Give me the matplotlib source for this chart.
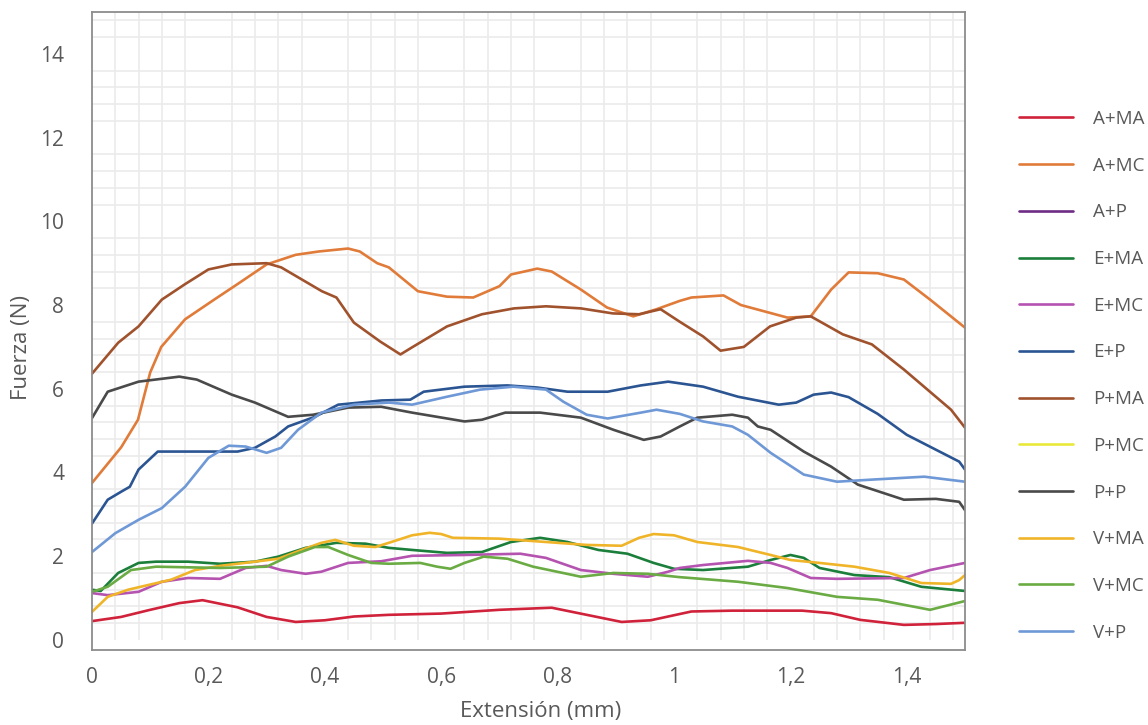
import matplotlib.pyplot as plt
import numpy as np

plt.rcParams['font.family'] = ['Open Sans', 'DejaVu Sans']

a_ma_x = [0, 0.05, 0.1, 0.15, 0.19, 0.25, 0.3, 0.35, 0.4, 0.45, 0.51, 0.6,
          0.7, 0.79, 0.85, 0.91, 0.96, 1.03, 1.1, 1.22, 1.27, 1.32, 1.395,
          1.45, 1.5]
a_ma = [0.45, 0.55, 0.72, 0.88, 0.95, 0.78, 0.55, 0.43, 0.47, 0.56, 0.6,
        0.63, 0.72, 0.77, 0.6, 0.43, 0.47, 0.68, 0.7, 0.7, 0.64, 0.48,
        0.36, 0.38, 0.41]

a_mc_x = [0, 0.05, 0.079, 0.1, 0.119, 0.16, 0.21, 0.25, 0.3, 0.35, 0.39,
          0.44, 0.46, 0.49, 0.51, 0.56, 0.61, 0.655, 0.7, 0.72, 0.765,
          0.79, 0.84, 0.885, 0.93, 0.97, 1.01, 1.03, 1.085, 1.115, 1.195,
          1.235, 1.27, 1.3, 1.35, 1.395, 1.44, 1.5]
a_mc = [3.75, 4.6, 5.26, 6.39, 7.0, 7.66, 8.13, 8.5, 8.97, 9.2, 9.28,
        9.35, 9.28, 9.0, 8.9, 8.33, 8.2, 8.18, 8.45, 8.73, 8.87,
        8.8, 8.37, 7.94, 7.73, 7.9, 8.1, 8.18, 8.23, 8.0, 7.7,
        7.73, 8.37, 8.78, 8.76, 8.61, 8.13, 7.46]

a_p_x = []
a_p = []

e_ma_x = [0, 0.015, 0.045, 0.08, 0.11, 0.165, 0.22, 0.28, 0.32, 0.367,
          0.42, 0.47, 0.51, 0.55, 0.61, 0.67, 0.72, 0.77, 0.817, 0.87,
          0.92, 0.965, 1.0, 1.05, 1.127, 1.166, 1.2, 1.223, 1.25, 1.31,
          1.37, 1.425, 1.5]
e_ma = [1.2, 1.17, 1.6, 1.84, 1.87, 1.87, 1.82, 1.87, 1.99, 2.2,
        2.32, 2.3, 2.2, 2.15, 2.08, 2.1, 2.34, 2.44, 2.34, 2.15,
        2.06, 1.84, 1.7, 1.67, 1.75, 1.91, 2.03, 1.96, 1.72, 1.55,
        1.5, 1.27, 1.17]

e_mc_x = [0, 0.027, 0.08, 0.12, 0.165, 0.22, 0.264, 0.3, 0.325, 0.367,
          0.394, 0.44, 0.497, 0.55, 0.64, 0.736, 0.78, 0.84, 0.896, 0.955,
          0.99, 1.01, 1.05, 1.127, 1.166, 1.195, 1.235, 1.28, 1.395, 1.44,
          1.5]
e_mc = [1.12, 1.07, 1.15, 1.39, 1.48, 1.46, 1.72, 1.77, 1.67, 1.58,
        1.63, 1.84, 1.88, 2.01, 2.03, 2.06, 1.96, 1.67, 1.58, 1.51,
        1.63, 1.72, 1.79, 1.89, 1.84, 1.72, 1.48, 1.46, 1.48, 1.67,
        1.84]

e_p_x = [0, 0.027, 0.05, 0.065, 0.08, 0.113, 0.165, 0.25, 0.28, 0.315,
         0.337, 0.383, 0.423, 0.497, 0.547, 0.57, 0.64, 0.714, 0.765,
         0.817, 0.886, 0.943, 0.99, 1.05, 1.11, 1.18, 1.21, 1.24, 1.27,
         1.3, 1.35, 1.4, 1.49, 1.5]
e_p = [2.78, 3.35, 3.54, 3.66, 4.07, 4.5, 4.5, 4.5, 4.59, 4.86,
       5.1, 5.33, 5.62, 5.72, 5.74, 5.93, 6.05, 6.08, 6.03,
       5.93, 5.93, 6.08, 6.17, 6.05, 5.81, 5.62, 5.67, 5.86, 5.91,
       5.8, 5.4, 4.9, 4.26, 4.07]

p_ma_x = [0, 0.045, 0.08, 0.12, 0.16, 0.2, 0.24, 0.3, 0.325, 0.395, 0.42,
          0.45, 0.495, 0.53, 0.55, 0.61, 0.67, 0.725, 0.78, 0.84, 0.895,
          0.94, 0.977, 1.01, 1.05, 1.08, 1.12, 1.165, 1.21, 1.235, 1.29,
          1.34, 1.395, 1.476, 1.5]
p_ma = [6.36, 7.1, 7.49, 8.13, 8.5, 8.85, 8.97, 9.0, 8.9, 8.33, 8.18,
        7.58, 7.13, 6.82, 6.99, 7.49, 7.78, 7.92, 7.97, 7.92, 7.8,
        7.78, 7.9, 7.6, 7.25, 6.91, 7.0, 7.49, 7.7, 7.73, 7.3,
        7.06, 6.46, 5.5, 5.07]

p_mc_x = []
p_mc = []

p_p_x = [0, 0.027, 0.08, 0.15, 0.18, 0.24, 0.28, 0.337, 0.38, 0.44, 0.497,
         0.55, 0.64, 0.67, 0.71, 0.77, 0.84, 0.896, 0.948, 0.977, 1.01,
         1.04, 1.1, 1.127, 1.144, 1.166, 1.223, 1.27, 1.316, 1.395, 1.45,
         1.49, 1.5]
p_p = [5.3, 5.93, 6.17, 6.29, 6.22, 5.86, 5.67, 5.33, 5.38, 5.55, 5.57,
       5.43, 5.22, 5.26, 5.43, 5.43, 5.31, 5.02, 4.78, 4.86, 5.1,
       5.31, 5.38, 5.31, 5.1, 5.02, 4.5, 4.14, 3.71, 3.35, 3.37,
       3.3, 3.1]

v_ma_x = [0, 0.027, 0.062, 0.136, 0.177, 0.22, 0.28, 0.32, 0.36, 0.394,
          0.418, 0.45, 0.487, 0.51, 0.55, 0.58, 0.6, 0.62, 0.7, 0.78, 0.85,
          0.91, 0.94, 0.965, 1.0, 1.04, 1.11, 1.166, 1.2, 1.25, 1.31, 1.37,
          1.425, 1.476, 1.49, 1.5]
v_ma = [0.67, 1.03, 1.2, 1.44, 1.67, 1.77, 1.87, 1.94, 2.15, 2.32,
        2.39, 2.25, 2.22, 2.32, 2.5, 2.56, 2.53, 2.44, 2.42, 2.34, 2.27,
        2.25, 2.44, 2.53, 2.5, 2.34, 2.22, 2.03, 1.91, 1.84, 1.75, 1.6,
        1.36, 1.34, 1.43, 1.55]

v_mc_x = [0, 0.027, 0.067, 0.11, 0.22, 0.3, 0.337, 0.383, 0.406, 0.44,
          0.48, 0.51, 0.564, 0.593, 0.616, 0.64, 0.673, 0.714, 0.758, 0.84,
          0.896, 0.955, 1.01, 1.11, 1.195, 1.28, 1.35, 1.44, 1.48, 1.5]
v_mc = [1.15, 1.27, 1.67, 1.75, 1.72, 1.75, 1.99, 2.22, 2.22, 2.03,
        1.84, 1.82, 1.84, 1.75, 1.7, 1.84, 1.99, 1.94, 1.75, 1.51,
        1.6, 1.58, 1.5, 1.39, 1.24, 1.03, 0.96, 0.72, 0.86, 0.93]

v_p_x = [0, 0.04, 0.08, 0.12, 0.16, 0.2, 0.235, 0.264, 0.3, 0.325, 0.354,
         0.394, 0.45, 0.51, 0.55, 0.61, 0.667, 0.724, 0.78, 0.81, 0.85,
         0.886, 0.943, 0.97, 1.01, 1.05, 1.1, 1.127, 1.166, 1.223, 1.28,
         1.34, 1.43, 1.5]
v_p = [2.1, 2.55, 2.87, 3.15, 3.66, 4.35, 4.64, 4.62, 4.47, 4.59, 5.02,
       5.43, 5.62, 5.67, 5.62, 5.81, 5.98, 6.05, 5.98, 5.69, 5.38,
       5.29, 5.43, 5.5, 5.4, 5.22, 5.1, 4.9, 4.47, 3.95, 3.78,
       3.83, 3.9, 3.78]

labels = ['A+MA', 'A+MC', 'A+P', 'E+MA', 'E+MC', 'E+P',
          'P+MA', 'P+MC', 'P+P', 'V+MA', 'V+MC', 'V+P']
xs = [a_ma_x, a_mc_x, a_p_x, e_ma_x, e_mc_x, e_p_x,
      p_ma_x, p_mc_x, p_p_x, v_ma_x, v_mc_x, v_p_x]
ys = [a_ma, a_mc, a_p, e_ma, e_mc, e_p, p_ma, p_mc, p_p, v_ma, v_mc, v_p]
colors = ['#d0223a', '#e07b39', '#6e2c86', '#1b7e3a', '#b553b0', '#2b5592',
          '#a0522d', '#e8e83a', '#4a4a4a', '#f0b429', '#6aab43', '#6f98d6']

x_ticks = [0, 0.2, 0.4, 0.6, 0.8, 1.0, 1.2, 1.4]
x_tick_labels = ['0', '0,2', '0,4', '0,6', '0,8', '1', '1,2', '1,4']
y_ticks = [0, 2, 4, 6, 8, 10, 12, 14]

txt = '#595959'
W, H = 1148, 725
fig = plt.figure(figsize=(W / 100, H / 100), dpi=100)
ax = fig.add_axes([92 / W, 1 - 650 / H, (965 - 92) / W, (650 - 12) / H])

ax.set_xlim(0, 1.5)
ax.set_ylim(-0.24, 15)

# rejilla secundaria (sin las líneas principales)
for i in range(1, 38):
    if i % 5:
        ax.vlines(i * 0.04, 0, 15, color='#ebebeb', lw=1.2, zorder=0)
for i in range(1, 38):
    if i % 5:
        ax.axhline(i * 0.4, color='#ebebeb', lw=1.2, zorder=0)

for lab, xv, yv, col in zip(labels, xs, ys, colors):
    ax.plot(xv, yv, color=col, lw=1.9, label=lab,
            solid_capstyle='round', solid_joinstyle='round')

ax.set_xticks(x_ticks)
ax.set_xticklabels(x_tick_labels)
ax.set_yticks(y_ticks)
ax.tick_params(length=0, labelsize=15, colors=txt)
ax.tick_params(axis='y', pad=20)
ax.tick_params(axis='x', pad=12)

for s in ax.spines.values():
    s.set_color('#8c8c8c')
    s.set_linewidth(1.3)

fig.text(22 / W, 1 - 348 / H, 'Fuerza (N)', rotation=90, ha='center',
         va='center', fontsize=16, color=txt)
fig.text(541 / W, 1 - 712 / H, 'Extensión (mm)', ha='center', va='center',
         fontsize=16, color=txt)

leg = ax.legend(loc='upper left', bbox_to_anchor=(1019 / W, 1 - 110 / H),
                bbox_transform=fig.transFigure, frameon=False, borderpad=0,
                borderaxespad=0, handlelength=2.9, handletextpad=1.07,
                labelspacing=1.53, fontsize=13.5)
for t in leg.get_texts():
    t.set_color(txt)

fig.savefig('out.png', dpi=100)
